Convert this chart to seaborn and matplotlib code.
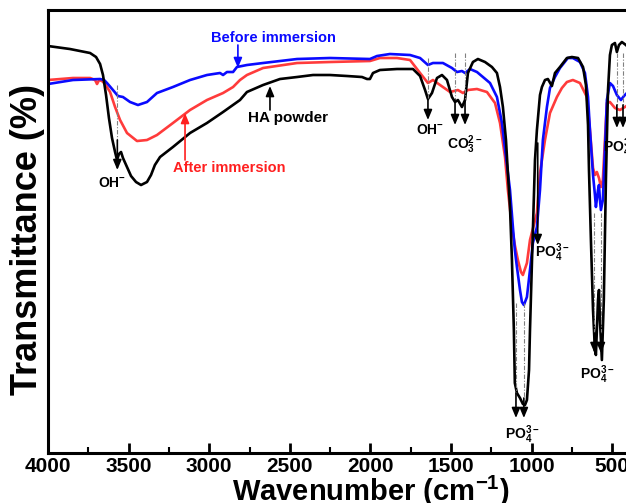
import numpy as np
import pandas as pd
import seaborn as sns
from matplotlib import pyplot as plt

# FTIR spectra (wavenumber in cm-1, transmittance in arbitrary units)
ha_wn = [4000, 3864, 3739, 3702, 3677, 3659, 3640, 3622, 3603, 3584, 3572, 3560, 3547, 3535,
         3510, 3485, 3454, 3423, 3386, 3361, 3337, 3305, 3225, 3119, 3014, 2914, 2809, 2766,
         2666, 2561, 2455, 2356, 2251, 2145, 2052, 2021, 2003, 1984, 1941, 1835, 1736, 1692,
         1661, 1643, 1618, 1587, 1556, 1525, 1494, 1475, 1457, 1432, 1413, 1395, 1364, 1333,
         1289, 1246, 1215, 1196, 1178, 1159, 1147, 1134, 1122, 1110, 1104, 1091, 1072, 1054,
         1041, 1029, 1016, 1010, 998, 992, 979, 967, 948, 936, 917, 899, 874, 855, 824, 781,
         750, 712, 681, 663, 650, 644, 632, 619, 607, 601, 588, 582, 576, 564, 552, 539, 526,
         514, 502, 483, 471, 458, 440, 415, 403]
ha_t = [407, 404, 400, 396, 389, 378, 358, 335, 315, 301, 293, 299, 301, 295,
        286, 277, 271, 268, 271, 278, 288, 296, 306, 320, 330, 341, 353, 361,
        368, 374, 376, 378, 378, 377, 376, 374, 374, 380, 383, 384, 384, 377,
        363, 354, 360, 375, 378, 373, 356, 351, 353, 346, 353, 380, 391, 394,
        391, 386, 380, 366, 346, 313, 280, 246, 193, 123, 70, 60, 55, 49,
        48, 53, 83, 123, 190, 223, 293, 323, 358, 366, 373, 374, 367, 380, 386, 395,
        396, 395, 386, 368, 328, 283, 213, 143, 103, 98, 153, 163, 133, 93, 153, 273, 363,
        398, 408, 410, 401, 408, 411, 408, 406]

before_wn = [4000, 3845, 3677, 3652, 3634, 3597, 3566, 3535, 3491, 3442, 3386, 3324, 3225,
             3119, 3014, 2933, 2914, 2890, 2852, 2828, 2766, 2666, 2455, 2251, 2003, 1959,
             1879, 1754, 1692, 1643, 1612, 1550, 1494, 1463, 1432, 1413, 1382, 1339, 1302,
             1258, 1215, 1184, 1159, 1134, 1116, 1104, 1091, 1072, 1060, 1048, 1029, 1010,
             992, 967, 948, 930, 905, 886, 855, 824, 775, 744, 700, 669, 650, 638, 619, 607,
             601, 588, 582, 576, 570, 558, 545, 533, 514, 495, 471, 446, 427, 403]
before_t = [369, 373, 374, 373, 370, 363, 357, 356, 351, 348, 351, 360, 366,
            373, 378, 380, 378, 381, 381, 386, 388, 390, 394, 395, 394, 397,
            399, 398, 395, 388, 390, 390, 385, 381, 382, 380, 384, 381, 376,
            370, 356, 330, 296, 263, 226, 203, 186, 163, 151, 148, 156, 183,
            210, 226, 263, 313, 346, 365, 376, 385, 395, 395, 391, 380, 356, 323, 278, 258,
            246, 263, 268, 253, 243, 253, 303, 353, 370, 367, 358, 353, 357, 361]

after_wn = [4000, 3845, 3739, 3708, 3696, 3683, 3665, 3646, 3615, 3584, 3553, 3510, 3448,
            3386, 3324, 3225, 3119, 3014, 2914, 2852, 2809, 2766, 2666, 2455, 2251, 2003,
            1941, 1835, 1754, 1692, 1643, 1612, 1568, 1506, 1457, 1426, 1395, 1339, 1277,
            1227, 1196, 1165, 1147, 1122, 1104, 1085, 1066, 1054, 1029, 1010, 967, 948, 917,
            886, 843, 812, 781, 744, 700, 657, 638, 619, 607, 595, 582, 570, 558, 545, 533,
            514, 483, 452, 421, 403]
after_t = [373, 375, 375, 373, 369, 373, 372, 369, 361, 346, 333, 320, 312,
           313, 318, 330, 343, 353, 360, 366, 373, 378, 385, 390, 391, 392,
           395, 395, 393, 380, 370, 373, 368, 361, 363, 360, 363, 364, 361,
           350, 330, 296, 263, 226, 208, 193, 181, 178, 190, 213, 240, 280, 313,
           340, 356, 365, 371, 373, 370, 356, 323, 285, 278, 281, 275, 266, 273, 313, 350,
           351, 345, 343, 346, 348]

x_ticks = [4000, 3500, 3000, 2500, 2000, 1500, 1000, 500, 0]

df = pd.concat([
    pd.DataFrame({"wn": after_wn, "T": after_t, "sample": "After immersion"}),
    pd.DataFrame({"wn": before_wn, "T": before_t, "sample": "Before immersion"}),
    pd.DataFrame({"wn": ha_wn, "T": ha_t, "sample": "HA powder"}),
])

sns.set_style("ticks", {"axes.edgecolor": "black", "text.color": "black",
                        "xtick.color": "black", "axes.labelcolor": "black"})
plt.rcParams["font.family"] = ["Liberation Sans", "DejaVu Sans"]
plt.rcParams["font.weight"] = "bold"
plt.rcParams["mathtext.fontset"] = "custom"
plt.rcParams["mathtext.rm"] = "Liberation Sans:bold"
plt.rcParams["mathtext.bf"] = "Liberation Sans:bold"
plt.rcParams["mathtext.it"] = "Liberation Sans:bold"
plt.rcParams["mathtext.default"] = "bf"

fig = plt.figure(figsize=(6.26, 5.03), dpi=100)
# the original frame runs on to 0 cm-1; the picture is cropped near 415 cm-1
ax = fig.add_axes([0.0767, 0.0994, 1.030, 0.8807])
sns.lineplot(data=df, x="wn", y="T", hue="sample", estimator=None, sort=False,
             palette={"After immersion": "#ff3b3b", "Before immersion": "#0a0aff",
                      "HA powder": "black"},
             linewidth=1.9, legend=False, ax=ax)

ax.set_xlim(4000, 0)
ax.set_ylim(0, 443)
ax.set_xticks(x_ticks)
ax.set_xticks(np.arange(3750, 0, -500), minor=True)
ax.set_yticks([])
ax.tick_params(axis="x", which="major", direction="in", length=7, width=2,
               labelsize=15, pad=3, colors="black")
ax.tick_params(axis="x", which="minor", direction="in", length=4, width=1.5)
for sp in ax.spines.values():
    sp.set_linewidth(2.2)
    sp.set_color("black")
ax.set_xlabel("Wavenumber (cm$^{-1}$)", fontsize=21, fontweight="bold", labelpad=-2)
ax.set_ylabel("Transmittance (%)", fontsize=26, fontweight="bold")
ax.yaxis.set_label_coords(-0.004, 0.481)

dash = dict(color="gray", lw=0.8, ls=(0, (4, 1.5, 1, 1.5)))
arr = dict(arrowstyle="-|>,head_length=0.6,head_width=0.25", lw=1.2, color="black",
           shrinkA=0, shrinkB=0)


def peak(x, y0, y1, tip):
    ax.plot([x, x], [y0, y1], **dash)
    ax.annotate("", xy=(x, tip), xytext=(x, y1), arrowprops=arr)


# sample labels
ax.text(2604, 415, "Before immersion", color="#0a0aff", fontsize=10.5, ha="center", va="center")
ax.annotate("", xy=(2822, 385), xytext=(2822, 408),
            arrowprops=dict(arr, color="#0a0aff"))
ax.text(2877, 285, "After immersion", color="#ff2020", fontsize=10.5, ha="center", va="center")
ax.annotate("", xy=(3150, 340), xytext=(3150, 293),
            arrowprops=dict(arr, color="#ff2020"))
ax.text(2512, 335, "HA powder", color="black", fontsize=11, ha="center", va="center")
ax.annotate("", xy=(2623, 367), xytext=(2623, 343), arrowprops=arr)

# band assignments
peak(3570, 368, 313, 283)
ax.text(3600, 270, "OH$^{-}$", fontsize=10, ha="center", va="center")
peak(1643, 395, 353, 333)
ax.text(1630, 323, "OH$^{-}$", fontsize=10, ha="center", va="center")
peak(1475, 400, 353, 328)
peak(1413, 400, 353, 328)
ax.text(1413, 308, "CO$_3^{2-}$", fontsize=10, ha="center", va="center")
ax.annotate("", xy=(962, 208), xytext=(962, 310), arrowprops=arr)
ax.text(870, 200, "PO$_4^{3-}$", fontsize=10, ha="center", va="center")
peak(1097, 150, 60, 35)
peak(1048, 150, 55, 35)
ax.text(1060, 18, "PO$_4^{3-}$", fontsize=10, ha="center", va="center")
peak(610, 240, 120, 100)
peak(570, 240, 120, 100)
ax.text(595, 78, "PO$_4^{3-}$", fontsize=10, ha="center", va="center")
peak(471, 400, 348, 325)
peak(433, 400, 348, 325)
ax.text(558, 305, "PO$_4^{3-}$", fontsize=10, ha="left", va="center")

plt.savefig("out.png", dpi=100)
plt.close()
